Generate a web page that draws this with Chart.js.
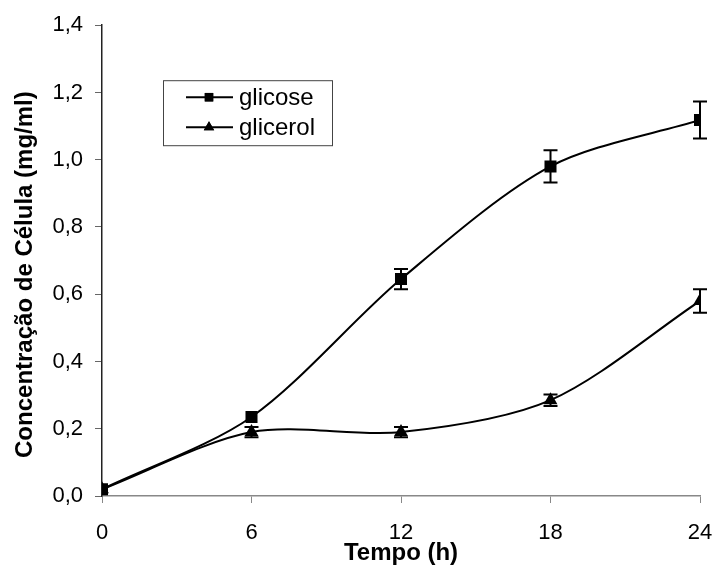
<!DOCTYPE html>
<html>
<head>
<meta charset="utf-8">
<script src="https://cdn.jsdelivr.net/npm/chart.js@4"></script>
<style>
  html, body { margin: 0; padding: 0; background: #fff; }
  #wrap { width: 715px; height: 571px; }
</style>
</head>
<body>
<div id="wrap"><canvas id="c" width="715" height="571"></canvas></div>
<script>
const hours = [0, 6, 12, 18, 24];
const glicose = [0.02, 0.235, 0.645, 0.98, 1.118];
const glicoseErr = [0.0, 0.0, 0.03, 0.048, 0.055];
const glicerol = [0.02, 0.19, 0.19, 0.285, 0.58];
const glicerolErr = [0.0, 0.015, 0.015, 0.017, 0.035];
const seriesNames = ['glicose', 'glicerol'];
const xTicks = [0, 6, 12, 18, 24];
const yTicks = [0, 0.2, 0.4, 0.6, 0.8, 1.0, 1.2, 1.4];
const xTitle = 'Tempo (h)';
const yTitle = 'Concentração de Célula (mg/ml)';

const FONT = "'Liberation Sans', Arial, sans-serif";

const toPts = (ys) => hours.map((h, i) => ({ x: h, y: ys[i] }));

const errorBars = {
  id: 'errorBars',
  afterDatasetsDraw(chart) {
    const ctx = chart.ctx;
    const xs = chart.scales.x, ys = chart.scales.y;
    ctx.save();
    ctx.strokeStyle = '#000';
    ctx.lineWidth = 2;
    chart.data.datasets.forEach((ds) => {
      ds.data.forEach((p, i) => {
        const e = ds.errors[i];
        if (!e) return;
        const px = xs.getPixelForValue(p.x);
        const top = ys.getPixelForValue(p.y + e);
        const bot = ys.getPixelForValue(p.y - e);
        ctx.beginPath();
        ctx.moveTo(px, top); ctx.lineTo(px, bot);
        ctx.moveTo(px - 7, top); ctx.lineTo(px + 7, top);
        ctx.moveTo(px - 7, bot); ctx.lineTo(px + 7, bot);
        ctx.stroke();
      });
    });
    ctx.restore();
  }
};

const yTitlePlugin = {
  id: 'yTitlePlugin',
  afterDraw(chart) {
    const ctx = chart.ctx;
    const ca = chart.chartArea;
    ctx.save();
    ctx.translate(25, (ca.top + ca.bottom) / 2 + 14);
    ctx.rotate(-Math.PI / 2);
    ctx.font = 'bold 24px ' + FONT;
    ctx.fillStyle = '#000';
    ctx.textAlign = 'center';
    ctx.textBaseline = 'middle';
    ctx.fillText(yTitle, 0, 0);
    ctx.restore();
  }
};

const boxLegend = {
  id: 'boxLegend',
  afterDraw(chart) {
    const ctx = chart.ctx;
    const ca = chart.chartArea;
    const x0 = ca.left + 61, y0 = ca.top + 55, w = 169, h = 65;
    ctx.save();
    ctx.strokeStyle = '#444';
    ctx.lineWidth = 1;
    ctx.strokeRect(x0 + 0.5, y0 + 0.5, w, h);
    chart.data.datasets.forEach((ds, i) => {
      const cy = y0 + 17 + i * 30;
      ctx.strokeStyle = '#000';
      ctx.lineWidth = 2;
      ctx.beginPath();
      ctx.moveTo(x0 + 23, cy); ctx.lineTo(x0 + 70, cy);
      ctx.stroke();
      ctx.fillStyle = '#000';
      Chart.helpers.drawPoint(ctx, { pointStyle: ds.pointStyle, radius: 6, rotation: 0, borderWidth: 0 }, x0 + 46, cy);
      ctx.fill();
      ctx.font = '24px ' + FONT;
      ctx.textBaseline = 'middle';
      ctx.textAlign = 'left';
      ctx.fillText(ds.label, x0 + 76, cy + 1);
    });
    ctx.restore();
  }
};

new Chart(document.getElementById('c'), {
  type: 'line',
  data: {
    datasets: [
      {
        label: seriesNames[0], data: toPts(glicose), errors: glicoseErr,
        borderColor: '#000', backgroundColor: '#000', borderWidth: 2,
        pointStyle: 'rect', pointRadius: 8.5, pointBackgroundColor: '#000', pointBorderWidth: 0,
        tension: 0.3, fill: false
      },
      {
        label: seriesNames[1], data: toPts(glicerol), errors: glicerolErr,
        borderColor: '#000', backgroundColor: '#000', borderWidth: 2,
        pointStyle: 'triangle', pointRadius: 8, pointBackgroundColor: '#000', pointBorderWidth: 0,
        tension: 0.3, fill: false
      }
    ]
  },
  options: {
    responsive: false,
    animation: false,
    devicePixelRatio: 1,
    layout: { padding: { top: 24, right: 3, left: 0, bottom: 0 } },
    plugins: { legend: { display: false }, tooltip: { enabled: false } },
    scales: {
      x: {
        type: 'linear', min: 0, max: 24,
        afterBuildTicks: (s) => { s.ticks = xTicks.map(v => ({ value: v })); },
        afterFit: (s) => { s.height = 75; s.paddingRight = 15; },
        ticks: { color: '#000', font: { family: FONT, size: 22 }, padding: 17, maxRotation: 0, callback: (v) => String(v) },
        grid: { drawOnChartArea: false, drawTicks: true, tickLength: 7, color: '#888', lineWidth: 1 },
        border: { display: true, color: '#888', width: 1.5 },
        title: { display: true, text: xTitle, color: '#000', font: { family: FONT, size: 24, weight: 'bold' }, padding: { top: 0, bottom: 3 } }
      },
      y: {
        type: 'linear', min: 0, max: 1.4,
        afterBuildTicks: (s) => { s.ticks = yTicks.map(v => ({ value: v })); },
        afterFit: (s) => { s.width = 102; },
        ticks: { color: '#000', font: { family: FONT, size: 22 }, padding: 12, callback: (v) => v.toFixed(1).replace('.', ',') },
        grid: { drawOnChartArea: false, drawTicks: true, tickLength: 7, color: '#666', lineWidth: 1 },
        border: { display: true, color: '#222', width: 1.5 },
        title: { display: false }
      }
    }
  },
  plugins: [errorBars, yTitlePlugin, boxLegend]
});
</script>
</body>
</html>
